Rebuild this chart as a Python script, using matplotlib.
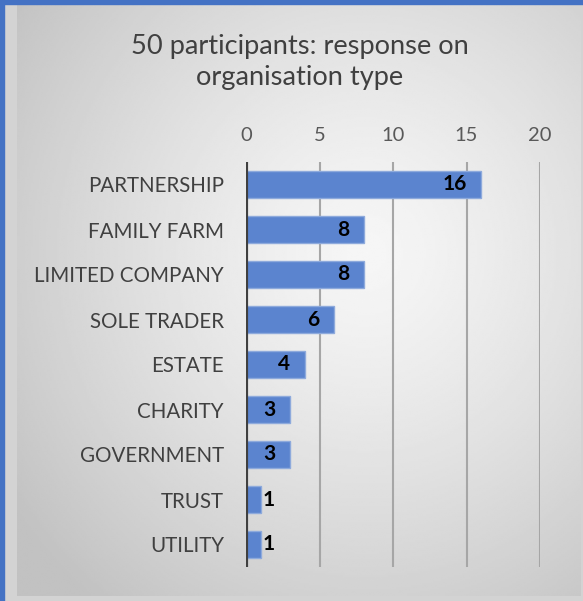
import matplotlib.pyplot as plt
import numpy as np
from matplotlib.patches import Rectangle

categories = ["PARTNERSHIP", "FAMILY FARM", "LIMITED COMPANY", "SOLE TRADER",
              "ESTATE", "CHARITY", "GOVERNMENT", "TRUST", "UTILITY"]
counts = [16, 8, 8, 6, 4, 3, 3, 1, 1]
xticks = [0, 5, 10, 15, 20]
title = "50 participants: response on\norganisation type"

W, H = 583, 601
plt.rcParams["font.family"] = ["Lato", "DejaVu Sans"]

fig = plt.figure(figsize=(W / 100, H / 100), dpi=100)
fig.patch.set_facecolor("#d3d3d3")

# radial gradient backdrop for the chart area
bg = fig.add_axes([17 / W, 1 - 596 / H, (581 - 17) / W, (596 - 4) / H])
bg.set_axis_off()
gx, gy = np.meshgrid(np.linspace(0, 1, 300), np.linspace(0, 1, 300))
r = np.sqrt(((gx - 0.62) / 0.75) ** 2 + ((gy - 0.42) / 0.75) ** 2)
shade = np.clip(0.965 - 0.2 * r ** 1.3, 0.76, 0.97)
bg.imshow(shade, cmap="gray", vmin=0, vmax=1, aspect="auto",
          extent=[0, 1, 1, 0], interpolation="bilinear")
bg.set_xlim(0, 1)
bg.set_ylim(1, 0)

# blue frame on the top and left edges
fig.patches.append(Rectangle((0, 0), 4 / W, 1, transform=fig.transFigure,
                             color="#4472c4", zorder=5))
fig.patches.append(Rectangle((0, 1 - 4 / H), 1, 4 / H, transform=fig.transFigure,
                             color="#4472c4", zorder=5))

ax = fig.add_axes([246 / W, 1 - 567 / H, (540 - 246) / W, (567 - 162) / H])
ax.patch.set_alpha(0)

y = np.arange(len(categories))
ax.barh(y, counts, height=0.6, color="#5b84cf", edgecolor="#8eaadc",
        linewidth=1, zorder=3)

for yi, v in zip(y, counts):
    if v >= 3:
        ax.text(v - 1.0, yi, str(v), ha="right", va="center",
                fontsize=15, fontweight="bold", color="black", zorder=4)
    else:
        ax.text(v + 0.12, yi, str(v), ha="left", va="center",
                fontsize=15, fontweight="bold", color="black", zorder=4)

ax.set_xlim(0, 20)
ax.set_ylim(len(categories) - 0.5, -0.5)
ax.set_xticks(xticks)
ax.xaxis.tick_top()
ax.set_yticks(y)
ax.set_yticklabels(categories)
ax.tick_params(axis="x", length=0, pad=13, labelsize=14.5, labelcolor="#595959")
ax.tick_params(axis="y", length=0, pad=16, labelsize=14.8, labelcolor="#404040")

for gxv in xticks[1:]:
    ax.axvline(gxv, color="#a6a6a6", linewidth=1.5, zorder=1)
ax.axvline(0, color="#404040", linewidth=3, zorder=5)
for s in ax.spines.values():
    s.set_visible(False)

fig.text(300 / W, 1 - 62 / H, title, ha="center", va="center",
         fontsize=19.6, color="#404040", linespacing=1.32)

fig.savefig("out.png", dpi=100)
